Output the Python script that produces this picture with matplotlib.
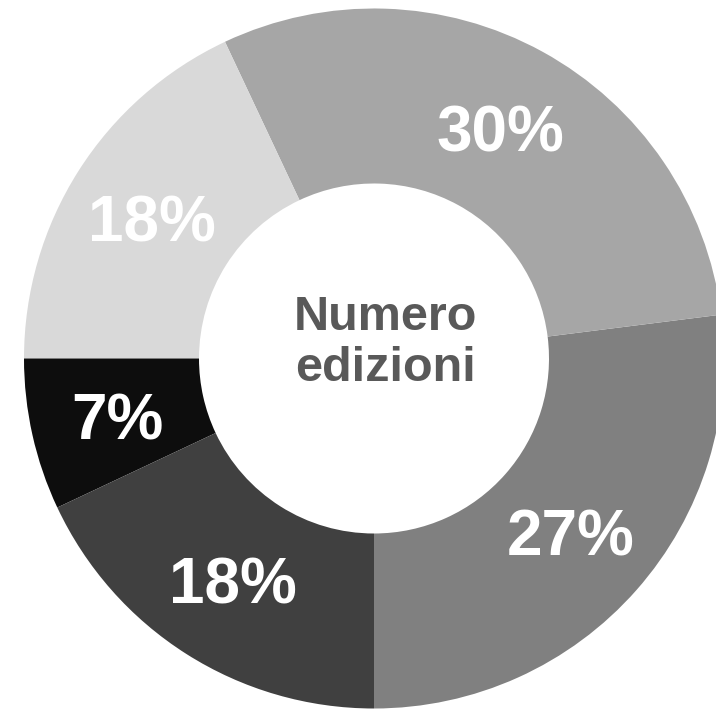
import matplotlib.pyplot as plt

# dati (in senso antiorario partendo dal basso)
values = [27, 30, 18, 7, 18]
colors = ['#808080', '#a6a6a6', '#d9d9d9', '#0d0d0d', '#404040']
center_label = "Numero\nedizioni"

plt.rcParams['font.family'] = ['Liberation Sans', 'DejaVu Sans']

fig = plt.figure(figsize=(7.16, 7.12), dpi=100)
ax = fig.add_axes([0, 0, 1, 1])

wedges, texts, autotexts = ax.pie(
    values, colors=colors, startangle=-90, counterclock=True,
    radius=1.0, wedgeprops=dict(width=0.5, linewidth=0),
    autopct='%d%%', pctdistance=0.75,
    textprops=dict(color='white', fontsize=46, fontweight='bold'))

for t in autotexts:
    t.set_va('center_baseline')

ax.text(0.034, 0.044, center_label, ha='center', va='center',
        fontsize=35, fontweight='bold', color='#595959', linespacing=1.15)

# posizionamento: raggio 350 px, centro (374, 358.5)
ax.set_xlim(-374 / 350, (716 - 374) / 350)
ax.set_ylim(-(712 - 358.5) / 350, 358.5 / 350)
ax.set_aspect('auto')
ax.axis('off')

fig.savefig('out.png', dpi=100)
